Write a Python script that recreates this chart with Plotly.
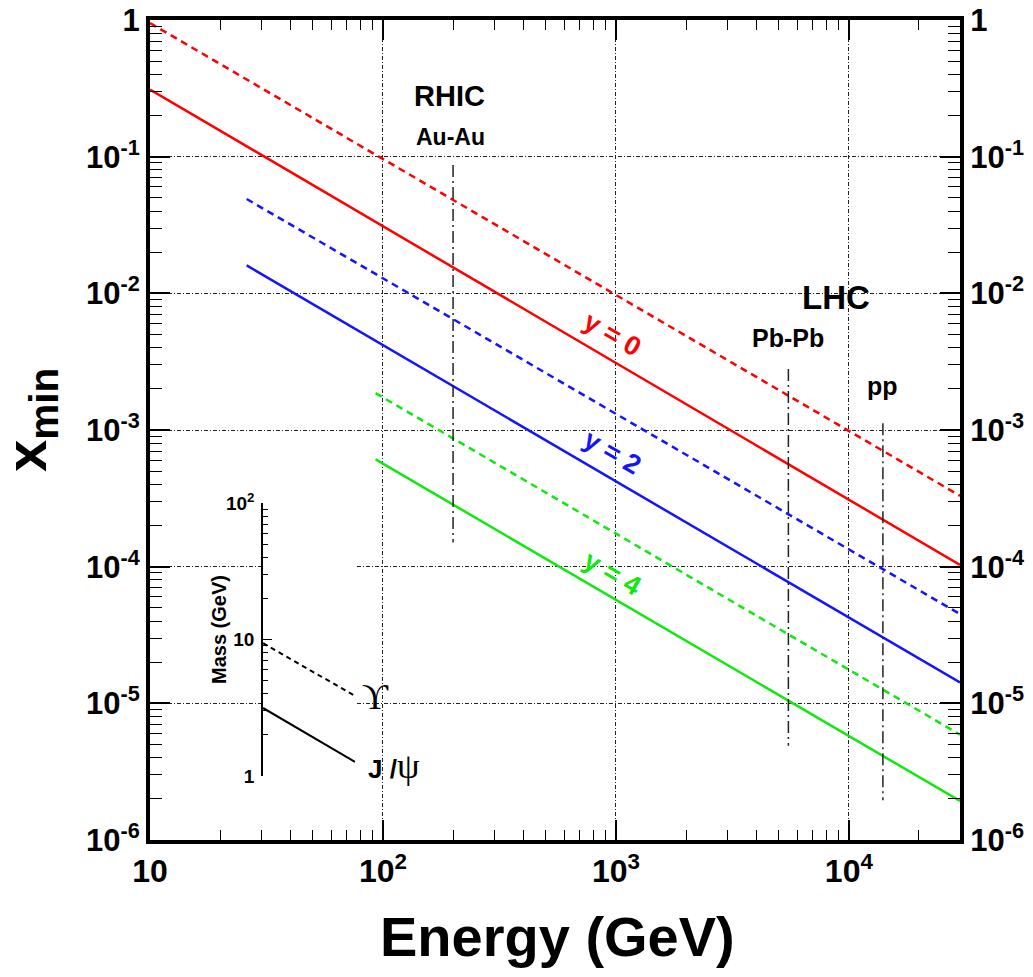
import plotly.graph_objects as go

# ---------------- data ----------------
# x_min versus collision energy, straight lines on log-log axes (start, end)
energy_y0 = [10, 30000]
energy_y2 = [26, 30000]
energy_y4 = [93, 30000]

jpsi_y0 = [0.31, 1.03e-4]
ups_y0 = [0.95, 3.3e-4]
jpsi_y2 = [0.016, 1.42e-5]
ups_y2 = [0.049, 4.5e-5]
jpsi_y4 = [6.1e-4, 1.93e-6]
ups_y4 = [1.86e-3, 5.9e-6]

# vertical marker lines (energy, x_min range)
rhic_e, rhic_y = [200, 200], [0.087, 1.5e-4]
pbpb_e, pbpb_y = [5500, 5500], [2.8e-3, 4.9e-6]
pp_e, pp_y = [14000, 14000], [1.12e-3, 1.95e-6]

# inset: mass scale (GeV)
inset_x = [0, 1]
inset_ups = [9.4, 3.86]
inset_jpsi = [3.15, 1.27]

x_tickvals = [10, 100, 1000, 10000]
x_ticktext = ["10", "10<sup>2</sup>", "10<sup>3</sup>", "10<sup>4</sup>"]
y_tickvals = [1e-6, 1e-5, 1e-4, 1e-3, 1e-2, 1e-1, 1]
y_ticktext = ["10<sup>-6</sup>", "10<sup>-5</sup>", "10<sup>-4</sup>", "10<sup>-3</sup>",
              "10<sup>-2</sup>", "10<sup>-1</sup>", "1"]
m_tickvals = [1, 10, 100]
m_ticktext = ["1", "10", "10<sup>2</sup>"]

RED, BLUE, GREEN = "#ff0000", "#1414ff", "#10e810"

# ---------------- geometry ----------------
# target plot area in page pixels: x 150..960, y 20..840
OFF = 8                      # default page (body) margin
PL, PR, PT, PB = 150, 960, 20, 840
W, H = 1033 - 2 * OFF, 977 - 2 * OFF
L, T = PL - OFF, PT - OFF
R = W - (PR - OFF)
B = H - (PB - OFF)
PW, PH = PR - PL, PB - PT


def px(x):
    return (x - PL) / PW


def py(y):
    return (PB - y) / PH


def minor_vals(lo_exp, hi_exp):
    out = []
    for e in range(lo_exp, hi_exp):
        for k in range(2, 10):
            out.append(k * 10 ** e)
    return out


FONT = "Liberation Sans"
fig = go.Figure()

dash_dot = "4px,2px,1px,2px"


def line(x, y, color, dash="solid", width=2.5, xa="x", ya="y"):
    fig.add_trace(go.Scatter(x=x, y=y, mode="lines", xaxis=xa, yaxis=ya,
                             line=dict(color=color, width=width, dash=dash),
                             hoverinfo="skip", showlegend=False))


dotted = "7px,5px"
line(energy_y0, ups_y0, RED, dotted)
line(energy_y0, jpsi_y0, RED)
line(energy_y2, ups_y2, BLUE, dotted)
line(energy_y2, jpsi_y2, BLUE)
line(energy_y4, ups_y4, GREEN, dotted)
line(energy_y4, jpsi_y4, GREEN)

vdash = "12px,4px,2px,4px"
for ex, yy in [(rhic_e, rhic_y), (pbpb_e, pbpb_y), (pp_e, pp_y)]:
    line(ex, yy, "#222222", vdash, width=1.5)

# invisible traces to activate the mirrored axes
line([10, 30000], [1e-6, 1], "rgba(0,0,0,0)", width=0, ya="y2")
line([10, 30000], [1e-6, 1], "rgba(0,0,0,0)", width=0, xa="x2")

# inset
line(inset_x, inset_ups, "black", "5px,4px", width=2, xa="x3", ya="y3")
line(inset_x, inset_jpsi, "black", width=2, xa="x3", ya="y3")

common_x = dict(type="log", range=[1, 4.4771], showline=True, linewidth=4,
                linecolor="black", automargin=False, ticklabeloverflow="allow")
common_y = dict(type="log", range=[-6, 0], showline=True, linewidth=4,
                linecolor="black", automargin=False, ticklabeloverflow="allow")

fig.update_layout(
    width=W, height=H,
    margin=dict(l=L, r=R, t=T, b=B, autoexpand=False),
    paper_bgcolor="white", plot_bgcolor="white",
    font=dict(family=FONT, color="black"),
    xaxis=dict(**common_x, domain=[0, 1], anchor="y",
               tickvals=x_tickvals, ticktext=x_ticktext,
               ticks="inside", ticklen=20, tickwidth=1.5, tickcolor="black",
               tickfont=dict(size=32, weight="bold", family=FONT),
               showgrid=True, gridcolor="#222", gridwidth=1, griddash=dash_dot,
               minor=dict(tickvals=minor_vals(1, 5), ticks="inside", ticklen=10,
                          tickwidth=1.3, tickcolor="black", showgrid=False)),
    xaxis2=dict(**common_x, overlaying="x", side="top", anchor="y",
                tickvals=x_tickvals, showticklabels=False,
                ticks="inside", ticklen=20, tickwidth=1.5, tickcolor="black",
                showgrid=False,
                minor=dict(tickvals=minor_vals(1, 5), ticks="inside", ticklen=10,
                           tickwidth=1.3, tickcolor="black", showgrid=False)),
    yaxis=dict(**common_y, domain=[0, 1], anchor="x",
               tickvals=y_tickvals, ticktext=y_ticktext,
               ticks="inside", ticklen=20, tickwidth=1.5, tickcolor="black",
               tickfont=dict(size=31, weight="bold", family=FONT),
               showgrid=True, gridcolor="#222", gridwidth=1, griddash=dash_dot,
               minor=dict(tickvals=minor_vals(-6, 0), ticks="inside", ticklen=12,
                          tickwidth=1.3, tickcolor="black", showgrid=False)),
    yaxis2=dict(**common_y, overlaying="y", side="right", anchor="x",
                tickvals=y_tickvals, ticktext=y_ticktext,
                ticks="inside", ticklen=20, tickwidth=1.5, tickcolor="black",
                tickfont=dict(size=31, weight="bold", family=FONT),
                showgrid=False,
                minor=dict(tickvals=minor_vals(-6, 0), ticks="inside", ticklen=12,
                           tickwidth=1.3, tickcolor="black", showgrid=False)),
    xaxis3=dict(domain=[px(263), px(355)], range=[0, 1], anchor="y3",
                visible=False, automargin=False),
    yaxis3=dict(type="log", range=[0, 2], domain=[py(776), py(503)], anchor="x3",
                side="left", showline=True, linewidth=1.5, linecolor="black",
                automargin=False, ticklabeloverflow="allow",
                tickvals=m_tickvals, ticktext=m_ticktext,
                ticks="inside", ticklen=9, tickwidth=1.2, tickcolor="black",
                ticklabelstandoff=3,
                tickfont=dict(size=19, weight="bold", family=FONT), showgrid=False,
                minor=dict(tickvals=minor_vals(0, 2), ticks="inside", ticklen=5,
                           tickwidth=1, tickcolor="black", showgrid=False)),
)


def ann(text, x, y, size, color="black", angle=0, bold=True, family=FONT):
    fig.add_annotation(text=text, x=px(x), y=py(y), xref="paper", yref="paper",
                       showarrow=False, textangle=angle, xanchor="center", yanchor="middle",
                       font=dict(size=size, color=color, family=family,
                                 weight="bold" if bold else "normal"))


ann("Energy (GeV)", 557, 936, 56)
ann("x<sub>min</sub>", 30, 420, 58, angle=-90)

ann("RHIC", 449, 96, 29)
ann("Au-Au", 450, 137, 23)
ann("LHC", 836, 297, 33)
ann("Pb-Pb", 788, 338, 25)
ann("pp", 882, 386, 25)

ann("y = 0", 612, 334, 27, RED, angle=30)
ann("y = 2", 612, 452, 27, BLUE, angle=30)
ann("y = 4", 612, 573, 27, GREEN, angle=30)

ann("Mass (GeV)", 219, 630, 20, angle=-90)
ann("\u03d2", 375, 697, 36, bold=False, family="Liberation Serif")
ann("J /<span style='font-family:Liberation Serif;font-weight:normal;font-size:36px'>\u03c8</span>",
    394, 766, 26)

fig.write_html("out.html")
